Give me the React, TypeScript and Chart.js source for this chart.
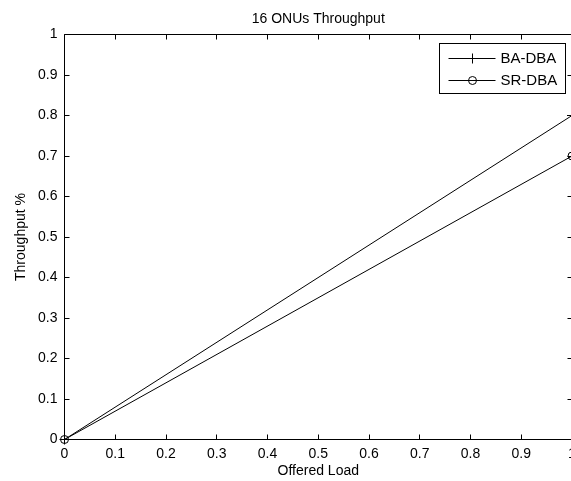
import React, { useEffect, useRef } from 'react';
import { Chart, registerables } from 'chart.js';

Chart.register(...registerables);

// ---- data ----
const offeredLoad = [0, 1];
const baDbaThroughput = [0, 0.8];
const srDbaThroughput = [0, 0.7];
const seriesNames = ['BA-DBA', 'SR-DBA'];

const xTickValues = [0, 0.1, 0.2, 0.3, 0.4, 0.5, 0.6, 0.7, 0.8, 0.9, 1];
const xTickLabels = ['0', '0.1', '0.2', '0.3', '0.4', '0.5', '0.6', '0.7', '0.8', '0.9', '1'];
const yTickValues = [0, 0.1, 0.2, 0.3, 0.4, 0.5, 0.6, 0.7, 0.8, 0.9, 1];
const yTickLabels = ['0', '0.1', '0.2', '0.3', '0.4', '0.5', '0.6', '0.7', '0.8', '0.9', '1'];

const chartTitle = '16 ONUs Throughput';
const xAxisTitle = 'Offered Load';
const yAxisTitle = 'Throughput %';

const FONT = "'Liberation Sans', Arial, Helvetica, sans-serif";
const INK = '#000';

const crisp = (v: number) => Math.round(v - 0.5) + 0.5;

const matlabAxes = {
  id: 'matlabAxes',
  beforeDatasetsDraw(chart: any) {
    const { ctx, chartArea: a, scales } = chart;
    const L = crisp(a.left);
    const R = crisp(a.right);
    const T = crisp(a.top);
    const B = crisp(a.bottom);
    const tl = 5;
    ctx.save();
    ctx.strokeStyle = INK;
    ctx.lineWidth = 1;
    ctx.beginPath();
    ctx.rect(L, T, R - L, B - T);
    scales.x.ticks.forEach((t: any) => {
      const px = crisp(scales.x.getPixelForValue(t.value));
      ctx.moveTo(px, B);
      ctx.lineTo(px, B - tl);
      ctx.moveTo(px, T);
      ctx.lineTo(px, T + tl);
    });
    scales.y.ticks.forEach((t: any) => {
      const py = crisp(scales.y.getPixelForValue(t.value));
      ctx.moveTo(L, py);
      ctx.lineTo(L + tl, py);
      ctx.moveTo(R, py);
      ctx.lineTo(R - tl, py);
    });
    ctx.stroke();
    ctx.restore();
  },
};

const drawMarker = (ctx: CanvasRenderingContext2D, style: string, x: number, y: number, r: number) => {
  ctx.beginPath();
  if (style === 'cross') {
    ctx.moveTo(x - r, y);
    ctx.lineTo(x + r, y);
    ctx.moveTo(x, y - r);
    ctx.lineTo(x, y + r);
  } else {
    ctx.arc(x, y, r, 0, Math.PI * 2);
  }
  ctx.stroke();
};

const boxLegend = {
  id: 'boxLegend',
  afterDatasetsDraw(chart: any) {
    const { ctx, chartArea: a } = chart;
    const right = crisp(a.right - 7);
    const top = crisp(a.top + 9);
    const w = 126;
    const h = 50;
    const left = right - w;
    ctx.save();
    ctx.fillStyle = '#fff';
    ctx.fillRect(left, top, w, h);
    ctx.strokeStyle = INK;
    ctx.lineWidth = 1;
    ctx.strokeRect(left, top, w, h);
    ctx.font = `15px ${FONT}`;
    ctx.textBaseline = 'middle';
    ctx.textAlign = 'left';
    ctx.fillStyle = INK;
    chart.data.datasets.forEach((ds: any, i: number) => {
      const rowY = crisp(top + 15 + i * 22);
      const x0 = left + 9;
      const x1 = left + 56;
      ctx.beginPath();
      ctx.moveTo(x0, rowY);
      ctx.lineTo(x1, rowY);
      ctx.stroke();
      drawMarker(ctx, ds.pointStyle, crisp((x0 + x1) / 2), rowY, ds.pointRadius);
      ctx.fillText(ds.label, left + 61, rowY + 0.5);
    });
    ctx.restore();
  },
};

export default function App() {
  const canvasRef = useRef<HTMLCanvasElement | null>(null);

  useEffect(() => {
    document.body.style.margin = '0';
    const canvas = canvasRef.current;
    if (!canvas) return;
    Chart.defaults.font.family = FONT;
    Chart.defaults.font.size = 14;
    Chart.defaults.color = INK;

    const toPoints = (ys: number[]) => offeredLoad.map((x, i) => ({ x, y: ys[i] }));

    const chart = new Chart(canvas, {
      type: 'line',
      data: {
        datasets: [
          {
            label: seriesNames[0],
            data: toPoints(baDbaThroughput),
            borderColor: INK,
            borderWidth: 1,
            pointStyle: 'cross',
            pointRadius: 5,
            pointBorderColor: INK,
            pointBorderWidth: 1,
            pointBackgroundColor: 'rgba(0,0,0,0)',
            tension: 0,
            clip: false,
          } as any,
          {
            label: seriesNames[1],
            data: toPoints(srDbaThroughput),
            borderColor: INK,
            borderWidth: 1,
            pointStyle: 'circle',
            pointRadius: 4,
            pointBorderColor: INK,
            pointBorderWidth: 1,
            pointBackgroundColor: 'rgba(0,0,0,0)',
            tension: 0,
            clip: false,
          } as any,
        ],
      },
      options: {
        responsive: false,
        animation: false,
        devicePixelRatio: 1,
        layout: { padding: 0, autoPadding: false },
        plugins: {
          legend: { display: false },
          tooltip: { enabled: false },
          title: {
            display: true,
            text: chartTitle,
            fullSize: false,
            color: INK,
            font: { size: 14, weight: 'normal', family: FONT },
            padding: { top: 11, bottom: 6.7 },
          },
        },
        scales: {
          x: {
            type: 'linear',
            min: 0,
            max: 1,
            grid: { display: false, drawTicks: false },
            border: { display: false },
            afterBuildTicks: (s: any) => {
              s.ticks = xTickValues.map((v) => ({ value: v }));
            },
            afterFit: (s: any) => {
              s.height = 41.5;
              s.paddingLeft = 0;
              s.paddingRight = 0;
            },
            ticks: {
              autoSkip: false,
              maxRotation: 0,
              padding: 6,
              color: INK,
              font: { size: 14, family: FONT },
              callback: (_v: any, i: number) => xTickLabels[i],
            },
            title: {
              display: true,
              text: xAxisTitle,
              color: INK,
              font: { size: 14, family: FONT },
              padding: { top: 0, bottom: 1 },
            },
          },
          y: {
            type: 'linear',
            min: 0,
            max: 1,
            grid: { display: false, drawTicks: false },
            border: { display: false },
            afterBuildTicks: (s: any) => {
              s.ticks = yTickValues.map((v) => ({ value: v }));
            },
            afterFit: (s: any) => {
              s.width = 64.5;
              s.paddingTop = 0;
              s.paddingBottom = 0;
            },
            ticks: {
              autoSkip: false,
              padding: 7,
              color: INK,
              font: { size: 14, family: FONT },
              callback: (_v: any, i: number) => yTickLabels[i],
            },
            title: {
              display: true,
              text: yAxisTitle,
              color: INK,
              font: { size: 14, family: FONT },
              padding: { top: 12.6, bottom: 0 },
            },
          },
        },
      } as any,
      plugins: [matlabAxes, boxLegend],
    });

    return () => chart.destroy();
  }, []);

  return (
    <div style={{ width: 571, height: 481, overflow: 'hidden', background: '#fff' }}>
      <canvas ref={canvasRef} width={572} height={481} style={{ display: 'block' }} />
    </div>
  );
}
